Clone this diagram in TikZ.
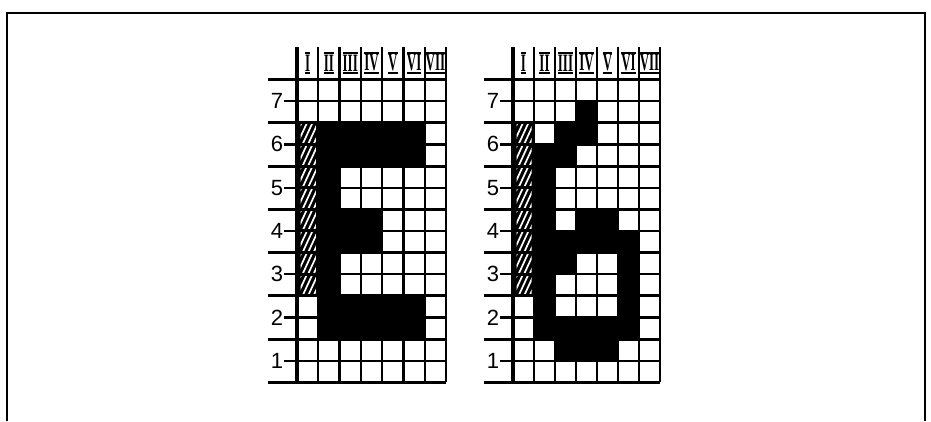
\documentclass[tikz,border=0pt]{standalone}
\usepackage{fontspec}
\setmainfont{Liberation Sans}
\newfontfamily\rmnum{Liberation Serif}
\newcommand\rn[1]{\setbox0\hbox{\rmnum\bfseries #1}\scalebox{0.52}[1]{\vbox{\hrule height2pt width\wd0\kern0.4pt\copy0\kern0.4pt\hrule height2pt width\wd0}}}
\tikzset{
 gline/.style={line width=2.3pt},
 rline/.style={line width=3pt},
 edgeline/.style={line width=3.2pt},
 frameline/.style={line width=1.4pt},
 rowlab/.style={font=\fontsize{22}{22}\selectfont, inner sep=0pt},
 collab/.style={font=\fontsize{25}{25}\selectfont, inner sep=0pt},
 hatchline/.style={white,line width=1.7pt},
}
\def\gy{79.5}\def\hh{21.64}\def\htop{47}
\newcommand\drawgrid[4]{%
 \def\gx{#1}\def\cw{#4}%
 \foreach \c/\r in {#2}{\fill ({\gx+(\c-1)*\cw},{\gy+(\r-1)*\hh}) rectangle ++(\cw,\hh);}
 \foreach \r in {3,...,10}{%
  \fill ({\gx},{\gy+(\r-1)*\hh}) rectangle ++(\cw,\hh);
  \begin{scope}
   \clip ({\gx+3.5},{\gy+(\r-1)*\hh+2}) rectangle ++({\cw-6},{\hh-4});
   \foreach \k in {-2,...,4}{\draw[hatchline] ({\gx+\k*5.5},{\gy+\r*\hh}) -- ++(10,{-\hh});}
  \end{scope}}
 \foreach \r in {1,3,...,13}{\draw[gline] ({\gx-13},{\gy+\r*\hh}) -- ({\gx+7*\cw},{\gy+\r*\hh});}
 \foreach \r in {0,2,...,14}{\draw[rline] ({\gx-29},{\gy+\r*\hh}) -- ({\gx+7*\cw},{\gy+\r*\hh});}
 \foreach \c in {1,...,7}{\draw[gline] ({\gx+\c*\cw},\htop) -- ({\gx+\c*\cw},{\gy+14*\hh});}
 \draw[edgeline] (\gx,\htop) -- (\gx,{\gy+14*\hh});
 \foreach \nn in {1,...,7}{\node[rowlab] (#3r\nn) at ({\gx-20},{\gy+(7-\nn)*2*\hh+\hh}) {\nn};}
 \foreach \c/\t in {1/I,2/II,3/III,4/IV,5/V,6/VI,7/VII}{\node[collab] (#3c\c) at ({\gx+(\c-0.5)*\cw},63) {\rn{\t}};}
}
\begin{document}
\begin{tikzpicture}[x=1pt,y=-1pt]
\useasboundingbox (0,0) rectangle (931,421);
\fill[white] (0,0) rectangle (931,421);
\draw[frameline] (7,421) -- (7,13) -- (925,13) -- (925,421);
\drawgrid{297}{2/3,3/3,4/3,5/3,6/3,2/4,3/4,4/4,5/4,6/4,2/5,2/6,2/7,3/7,4/7,2/8,3/8,4/8,2/9,2/10,2/11,3/11,4/11,5/11,6/11,2/12,3/12,4/12,5/12,6/12}{A}{21.29}
\drawgrid{513}{4/2,3/3,4/3,2/4,3/4,2/5,2/6,2/7,4/7,5/7,2/8,3/8,4/8,5/8,6/8,2/9,3/9,6/9,2/10,6/10,2/11,6/11,2/12,3/12,4/12,5/12,6/12,3/13,4/13,5/13}{B}{21}
\end{tikzpicture}
\end{document}
